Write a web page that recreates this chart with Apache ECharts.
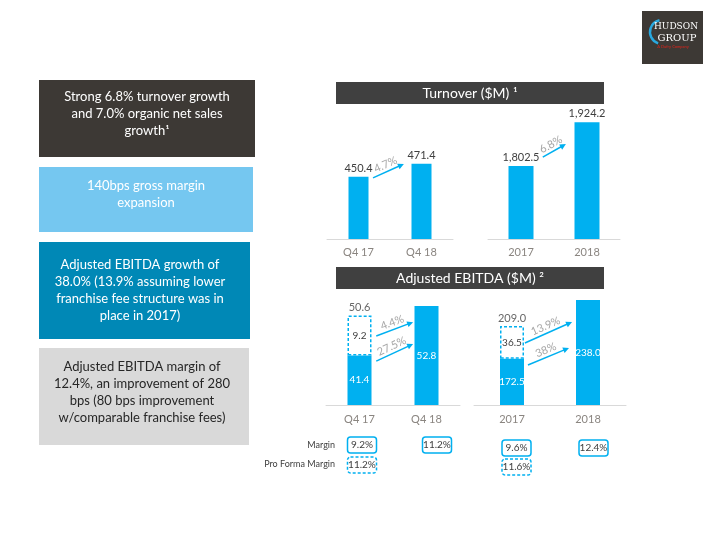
<!DOCTYPE html>
<html><head><meta charset="utf-8">
<script src="https://cdn.jsdelivr.net/npm/echarts@6/dist/echarts.min.js"></script>
<style>html,body{margin:0;padding:0;background:#fff}#c{width:720px;height:540px}</style>
</head><body><div id="c"></div>
<script>
// ---------- data ----------
const turnoverQCats = ['Q4 17', 'Q4 18'];
const turnoverQValues = [450.4, 471.4];
const turnoverYCats = ['2017', '2018'];
const turnoverYValues = [1802.5, 1924.2];
const ebitdaQCats = ['Q4 17', 'Q4 18'];
const ebitdaQBase = [41.4, 52.8];
const ebitdaQProForma = [9.2, null];
const ebitdaQTotal = [50.6, null];
const ebitdaYCats = ['2017', '2018'];
const ebitdaYBase = [172.5, 238.0];
const ebitdaYProForma = [36.5, null];
const ebitdaYTotal = [209.0, null];
const turnoverGrowth = ['4.7%', '6.8%'];
const ebitdaQGrowth = ['4.4%', '27.5%'];
const ebitdaYGrowth = ['13.9%', '38%'];
const marginQ = ['9.2%', '11.2%'];
const proFormaMarginQ = ['11.2%', null];
const marginY = ['9.6%', '12.4%'];
const proFormaMarginY = ['11.6%', null];
const turnoverTitle = 'Turnover ($M) \u00b9';
const ebitdaTitle = 'Adjusted EBITDA ($M) \u00b2';
const bulletTexts = [
  'Strong 6.8% turnover growth\nand 7.0% organic net sales\ngrowth\u00b9',
  '140bps gross margin\nexpansion',
  'Adjusted EBITDA growth of\n38.0% (13.9% assuming lower\nfranchise fee structure was in\nplace in 2017)',
  'Adjusted EBITDA margin of\n12.4%, an improvement of 280\nbps (80 bps improvement\nw/comparable franchise fees)'
];

// ---------- style / layout ----------
const FONT = 'Lato, "Open Sans", sans-serif';
const CYAN = '#00b0f0';
const TXT = '#404040';
const fmt = v => v.toLocaleString('en-US', {minimumFractionDigits: 1, maximumFractionDigits: 1});

const chart = echarts.init(document.getElementById('c'), null, {renderer: 'canvas'});

function xAx(g, cats, margin) {
  return {type: 'category', gridIndex: g, data: cats,
    axisLine: {lineStyle: {color: '#d9d9d9', width: 1}}, axisTick: {show: false},
    axisLabel: {color: '#8a8580', fontSize: 11, fontFamily: FONT, margin: margin}};
}
function yAx(g, min, max) { return {type: 'value', gridIndex: g, min: min, max: max, show: false}; }

const grids = [
  {left: 327, top: 110, width: 126, height: 129},
  {left: 488, top: 110, width: 132, height: 129},
  {left: 326, top: 300, width: 134, height: 105},
  {left: 474, top: 300, width: 152, height: 105}
];

const barLabelTop = {show: true, position: 'top', distance: 3, color: TXT, fontSize: 11, fontFamily: FONT,
  formatter: p => fmt(p.value)};
const inLabel = {show: true, position: 'inside', color: '#fff', fontSize: 10, fontFamily: FONT,
  formatter: p => p.value == null ? '' : fmt(p.value)};
const pfStyle = {color: '#fff', borderColor: CYAN, borderWidth: 1.5, borderType: [3, 2]};
const pfLabel = {show: true, position: 'inside', color: TXT, fontSize: 10, fontFamily: FONT,
  formatter: p => p.value == null ? '' : fmt(p.value)};
const totLabel = {show: true, position: 'top', distance: 2, color: TXT, fontSize: 11, fontFamily: FONT,
  formatter: p => p.value == null ? '' : fmt(p.value)};

chart.setOption({
  animation: false,
  backgroundColor: '#fff',
  grid: grids,
  xAxis: [xAx(0, turnoverQCats, 8), xAx(1, turnoverYCats, 8), xAx(2, ebitdaQCats, 9), xAx(3, ebitdaYCats, 9)],
  yAxis: [yAx(0, 350, 558), yAx(1, 1600, 1958), yAx(2, 30, 54.2), yAx(3, 121, 238)],
  series: [
    {type: 'bar', xAxisIndex: 0, yAxisIndex: 0, data: turnoverQValues, barWidth: 20,
      itemStyle: {color: CYAN}, label: barLabelTop},
    {type: 'bar', xAxisIndex: 1, yAxisIndex: 1, data: turnoverYValues, barWidth: 25,
      itemStyle: {color: CYAN}, label: barLabelTop},
    {type: 'bar', xAxisIndex: 2, yAxisIndex: 2, data: ebitdaQBase, barWidth: 24, stack: 'q',
      itemStyle: {color: CYAN}, label: inLabel},
    {type: 'bar', xAxisIndex: 2, yAxisIndex: 2, data: ebitdaQProForma, barWidth: 24, stack: 'q',
      itemStyle: pfStyle, label: pfLabel},
    {type: 'scatter', xAxisIndex: 2, yAxisIndex: 2, data: ebitdaQTotal, symbolSize: 1,
      itemStyle: {color: 'rgba(0,0,0,0)'}, label: totLabel},
    {type: 'bar', xAxisIndex: 3, yAxisIndex: 3, data: ebitdaYBase, barWidth: 24, stack: 'y',
      itemStyle: {color: CYAN}, label: inLabel},
    {type: 'bar', xAxisIndex: 3, yAxisIndex: 3, data: ebitdaYProForma, barWidth: 24, stack: 'y',
      itemStyle: pfStyle, label: pfLabel},
    {type: 'scatter', xAxisIndex: 3, yAxisIndex: 3, data: ebitdaYTotal, symbolSize: 1,
      itemStyle: {color: 'rgba(0,0,0,0)'}, label: totLabel}
  ]
});

// ---------- annotations (positions derived from the axes) ----------
const G = [];
function px(g, cat, val) {
  const a = chart.convertToPixel({gridIndex: g}, [0, val]);
  const b = chart.convertToPixel({gridIndex: g}, [1, val]);
  return [a[0] + (b[0] - a[0]) * cat, a[1]];
}
function arrow(g, from, to, label) {
  const s = px(g, from[0], from[1]), e = px(g, to[0], to[1]);
  const dx = e[0] - s[0], dy = e[1] - s[1], L = Math.hypot(dx, dy);
  const ux = dx / L, uy = dy / L;
  const hl = 6, hw = 3;
  G.push({type: 'line', shape: {x1: s[0], y1: s[1], x2: e[0] - ux * (hl - 1), y2: e[1] - uy * (hl - 1)},
    style: {stroke: CYAN, lineWidth: 1.5}, z: 10});
  G.push({type: 'polygon', shape: {points: [[e[0], e[1]],
    [e[0] - ux * hl + uy * hw, e[1] - uy * hl - ux * hw],
    [e[0] - ux * hl - uy * hw, e[1] - uy * hl + ux * hw]]},
    style: {fill: CYAN}, z: 10});
  const mx = (s[0] + e[0]) / 2 + uy * 7, my = (s[1] + e[1]) / 2 - ux * 7;
  G.push({type: 'text', x: mx, y: my, rotation: Math.atan2(-dy, dx), z: 10,
    style: {text: label, fill: '#a6a6a6', font: '11px ' + FONT, align: 'center', verticalAlign: 'middle'}});
}
arrow(0, [0.23, 448.5], [0.72, 471], turnoverGrowth[0]);
arrow(1, [0.33, 1827], [0.68, 1863.5], turnoverGrowth[1]);
arrow(2, [0.25, 45.9], [0.80, 49.1], ebitdaQGrowth[0]);
arrow(2, [0.25, 40.1], [0.80, 44.06], ebitdaQGrowth[1]);
arrow(3, [0.17, 190.1], [0.79, 213.5], ebitdaYGrowth[0]);
arrow(3, [0.21, 165.6], [0.75, 184.5], ebitdaYGrowth[1]);

// headers
function header(y, text) {
  G.push({type: 'rect', shape: {x: 336, y: y, width: 268, height: 22}, style: {fill: '#404040'}});
  G.push({type: 'text', x: 470, y: y + 11, style: {text: text, fill: '#fff', font: '14px ' + FONT,
    align: 'center', verticalAlign: 'middle'}});
}
header(82, turnoverTitle);
header(267, ebitdaTitle);

// left bullet boxes
const boxes = [
  {x: 39, y: 80, w: 216, h: 77, fill: '#3d3935', color: '#fff', ty: 114, tx: 147},
  {x: 39, y: 167, w: 214, h: 65, fill: '#75c7f0', color: '#fff', ty: 194, tx: 146},
  {x: 39, y: 242, w: 211, h: 97, fill: '#0088b6', color: '#fff', ty: 290, tx: 140},
  {x: 39, y: 348, w: 210, h: 97, fill: '#d9d9d9', color: '#262626', ty: 392, tx: 142}
];
boxes.forEach((b, i) => {
  G.push({type: 'rect', shape: {x: b.x, y: b.y, width: b.w, height: b.h}, style: {fill: b.fill}});
  G.push({type: 'text', x: b.tx, y: b.ty, style: {text: bulletTexts[i], fill: b.color, font: '13px ' + FONT,
    lineHeight: 17, align: 'center', verticalAlign: 'middle'}});
});

// margin rows
G.push({type: 'text', x: 335, y: 445, style: {text: 'Margin', fill: TXT, font: '9px ' + FONT, align: 'right', verticalAlign: 'middle'}});
G.push({type: 'text', x: 335, y: 464, style: {text: 'Pro Forma Margin', fill: TXT, font: '9px ' + FONT, align: 'right', verticalAlign: 'middle'}});
function mbox(cx, cy, text, dashed) {
  G.push({type: 'rect', shape: {x: cx - 14.5, y: cy - 8, width: 29, height: 16, r: 3},
    style: {fill: '#fff', stroke: CYAN, lineWidth: 1.5, lineDash: dashed ? [3, 2] : null}});
  G.push({type: 'text', x: cx, y: cy, style: {text: text, fill: TXT, font: '10px ' + FONT, align: 'center', verticalAlign: 'middle'}});
}
const qOff = [2.5, 10.5], yOff = [4.5, 5.5];
[0, 1].forEach(i => {
  const cq = px(2, i, 40)[0], cyy = px(3, i, 150)[0];
  if (marginQ[i]) mbox(cq + qOff[i], 445, marginQ[i], false);
  if (proFormaMarginQ[i]) mbox(cq + qOff[i], 465, proFormaMarginQ[i], true);
  if (marginY[i]) mbox(cyy + yOff[i], 448, marginY[i], false);
  if (proFormaMarginY[i]) mbox(cyy + yOff[i], 467, proFormaMarginY[i], true);
});

// logo
G.push({type: 'rect', shape: {x: 642, y: 11, width: 61, height: 53}, style: {fill: '#3d3935'}});
G.push({type: 'arc', shape: {cx: 662, cy: 32, r: 12, startAngle: 1.9, endAngle: 4.5, clockwise: true},
  style: {stroke: '#29a9e0', lineWidth: 2.5, fill: null}});
G.push({type: 'text', x: 676, y: 27, style: {text: 'HUDSON', fill: '#fff', font: '9px "DejaVu Serif", serif', align: 'center', verticalAlign: 'middle'}});
G.push({type: 'text', x: 677, y: 38, style: {text: 'GROUP', fill: '#fff', font: '10px "DejaVu Serif", serif', align: 'center', verticalAlign: 'middle'}});
G.push({type: 'text', x: 673, y: 47, style: {text: 'A Dufry Company', fill: '#e2231a', font: '4px ' + FONT, align: 'center', verticalAlign: 'middle'}});

chart.setOption({graphic: G.map(e => Object.assign({silent: true}, e))});
</script></body></html>
